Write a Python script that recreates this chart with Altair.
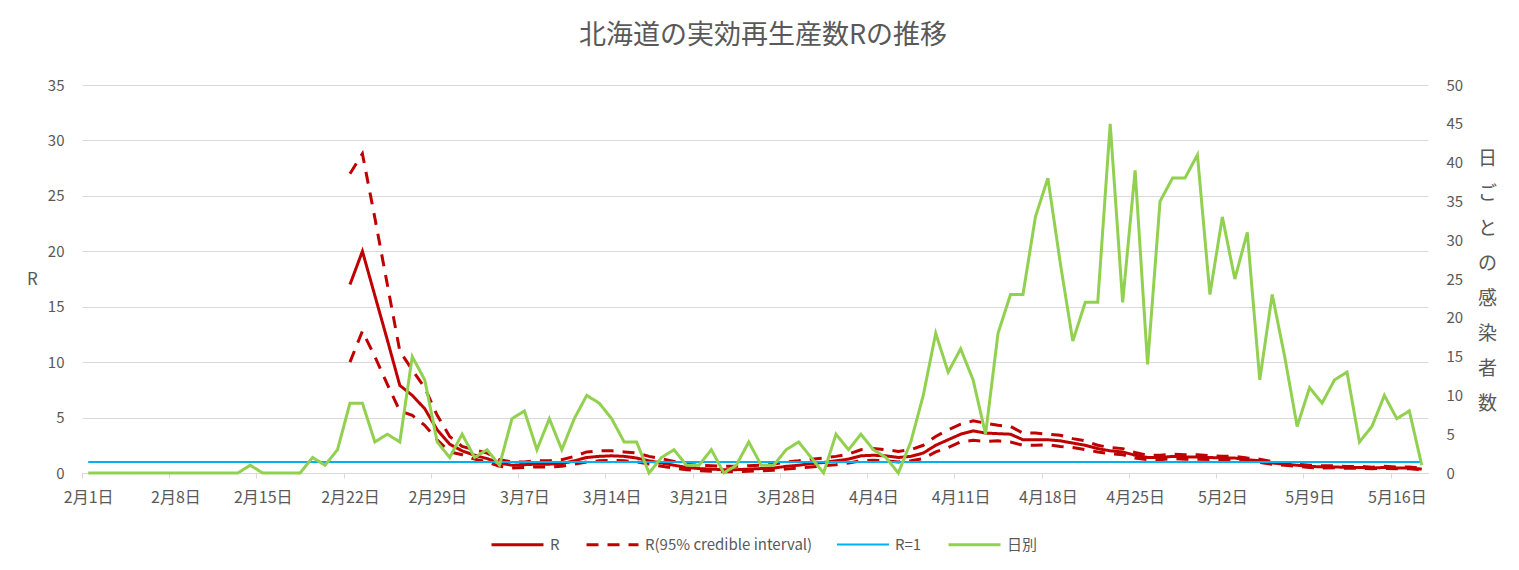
import altair as alt
import pandas as pd

# ---- categories: 2020-02-01 .. 2020-05-18 ----
months = [2, 3, 4, 5]
month_days = [29, 31, 30, 18]
dates = [f"{m}月{d}日" for m, n in zip(months, month_days) for d in range(1, n + 1)]
tick_dates = dates[::7]

# ---- daily new cases (right axis) 2/1 .. 5/18 ----
daily = [0, 0, 0, 0, 0, 0, 0, 0, 0, 0, 0, 0, 0, 1, 0, 0, 0, 0, 2, 1, 3, 9, 9, 4, 5, 4, 15, 12, 4,
         2, 5, 2, 3, 1, 7, 8, 3, 7, 3, 7, 10, 9, 7, 4, 4, 0, 2, 3, 1, 1, 3, 0, 1, 4, 1, 1, 3, 4, 2, 0,
         5, 3, 5, 3, 2, 0, 4, 10, 18, 13, 16, 12, 5, 18, 23, 23, 33, 38, 27, 17, 22, 22, 45, 22, 39, 14,
         35, 38, 38, 41,
         23, 33, 25, 31, 12, 23, 15, 6, 11, 9, 12, 13, 4, 6, 10, 7, 8, 1]

# ---- R estimates from 2/22 .. 5/18 ----
r_start = dates.index("2月22日")
r_mid = [17.0, 20.0, 16.0, 12.0, 7.9, 7.0, 5.8, 3.9,
         2.6, 2.0, 1.6, 1.3, 0.9, 0.7, 0.75, 0.8, 0.8, 0.85, 1.1, 1.4, 1.5, 1.55, 1.5, 1.35, 1.1, 0.9,
         0.7, 0.5, 0.4, 0.35, 0.3, 0.3, 0.35, 0.4, 0.45, 0.6, 0.7, 0.85, 0.95,
         1.1, 1.25, 1.55, 1.6, 1.55, 1.4, 1.5, 1.8, 2.5, 3.0, 3.5, 3.8, 3.6, 3.55, 3.5, 3.0, 3.0, 3.0,
         2.9, 2.7, 2.5, 2.2, 2.0, 1.9, 1.6, 1.4, 1.4, 1.5, 1.45, 1.45,
         1.4, 1.35, 1.35, 1.2, 1.1, 0.9, 0.8, 0.7, 0.6, 0.55, 0.55, 0.5, 0.5, 0.45, 0.5, 0.45, 0.45, 0.35]
r_upper = [27.0, 28.8, 23.0, 17.0, 11.0, 9.3, 7.7, 5.2,
           3.3, 2.4, 2.1, 1.8, 1.2, 1.0, 1.0, 1.1, 1.1, 1.2, 1.5, 1.9, 2.0, 2.0, 1.9, 1.8, 1.5, 1.3,
           1.05, 0.8, 0.7, 0.65, 0.6, 0.6, 0.65, 0.7, 0.8, 1.0, 1.1, 1.25, 1.35,
           1.5, 1.7, 2.1, 2.2, 2.1, 1.95, 2.1, 2.5, 3.3, 3.9, 4.4, 4.7, 4.5, 4.3, 4.2, 3.6, 3.6, 3.5,
           3.4, 3.1, 2.9, 2.5, 2.3, 2.2, 1.85, 1.6, 1.6, 1.7, 1.65, 1.65,
           1.55, 1.5, 1.5, 1.35, 1.25, 1.02, 0.9, 0.8, 0.7, 0.65, 0.65, 0.58, 0.6, 0.52, 0.6, 0.53, 0.55, 0.42]
r_lower = [10.0, 12.8, 10.5, 8.0, 5.6, 5.2, 4.3, 3.0,
           1.9, 1.65, 1.25, 1.0, 0.6, 0.45, 0.5, 0.55, 0.55, 0.6, 0.8, 1.0, 1.1, 1.15, 1.1, 1.0, 0.8, 0.6,
           0.45, 0.3, 0.2, 0.15, 0.12, 0.12, 0.15, 0.2, 0.25, 0.35, 0.45, 0.55, 0.65,
           0.75, 0.9, 1.1, 1.15, 1.1, 1.0, 1.1, 1.3, 1.9, 2.3, 2.8, 2.95, 2.85, 2.9, 2.8, 2.5, 2.5, 2.55,
           2.4, 2.3, 2.1, 1.9, 1.75, 1.65, 1.35, 1.2, 1.2, 1.3, 1.25, 1.25,
           1.22, 1.2, 1.2, 1.05, 0.95, 0.78, 0.7, 0.6, 0.5, 0.45, 0.47, 0.42, 0.42, 0.38, 0.42, 0.38, 0.38, 0.3]
r_one = [1.0] * len(dates)

series_names = ["R", "R(95% credible interval)", "R=1", "日別"]
series_colors = ["#C00000", "#C00000", "#00B0F0", "#92D050"]
series_dash = [[1, 0], [12, 9], [1, 0], [1, 0]]
series_width = [3, 3, 2, 3]

r_dates = dates[r_start:r_start + len(r_mid)]
df_mid = pd.DataFrame({"date": r_dates, "value": r_mid, "series": "R", "line": "mid"})
df_ci = pd.concat([
    pd.DataFrame({"date": r_dates, "value": r_upper, "series": series_names[1], "line": "upper"}),
    pd.DataFrame({"date": r_dates, "value": r_lower, "series": series_names[1], "line": "lower"}),
])
df_one = pd.DataFrame({"date": dates, "value": r_one, "series": "R=1", "line": "one"})
df_daily = pd.DataFrame({"date": dates, "value": daily, "series": "日別", "line": "daily"})

FONT = "Noto Sans CJK JP"
GRAY = "#595959"
STEP = 1346 / len(dates)

x_enc = alt.X(
    "date:O",
    scale=alt.Scale(domain=dates, type="point", padding=0.5),
    axis=alt.Axis(
        title=None, values=tick_dates, labelAngle=0, labelFont=FONT, labelFontSize=16,
        labelColor=GRAY, domainColor="#D9D9D9", domainWidth=1, tickColor="#D9D9D9",
        tickSize=5, tickOffset=-STEP / 2, labelOffset=STEP / 2, labelPadding=11, grid=False,
    ),
)

y_left = alt.Y(
    "value:Q",
    scale=alt.Scale(domain=[0, 35]),
    axis=alt.Axis(
        values=[0, 5, 10, 15, 20, 25, 30, 35], title="R", titleAngle=0, titleX=-50, titleY=194,
        titleAlign="center", titleBaseline="middle", titleFont=FONT, titleFontSize=17,
        titleFontWeight="normal", titleColor=GRAY, labelFont=FONT, labelFontSize=15,
        labelColor=GRAY, labelPadding=18, ticks=False, tickSize=0, domain=False,
        grid=True, gridColor="#D9D9D9", gridWidth=1,
    ),
)

y_right = alt.Y(
    "value:Q",
    scale=alt.Scale(domain=[0, 50]),
    axis=alt.Axis(
        orient="right", values=list(range(0, 55, 5)),
        title=list("日ごとの感染者数"), titleAngle=0, titleX=59, titleY=64,
        titleAlign="center", titleBaseline="top", titleLineHeight=35,
        titleFont=FONT, titleFontSize=19, titleFontWeight="normal", titleColor=GRAY,
        labelFont=FONT, labelFontSize=15, labelColor=GRAY, labelPadding=18,
        ticks=False, tickSize=0, domain=False, grid=False,
    ),
)

legend = alt.Legend(
    title=None, orient="none", legendX=408, legendY=432, direction="horizontal",
    symbolType="stroke", symbolSize=2704, labelFont=FONT, labelFontSize=15, labelColor=GRAY,
    columnPadding=20, labelOffset=5, labelLimit=0,
)
color_enc = alt.Color("series:N", scale=alt.Scale(domain=series_names, range=series_colors), legend=legend)
dash_enc = alt.StrokeDash("series:N", scale=alt.Scale(domain=series_names, range=series_dash), legend=legend)
width_enc = alt.StrokeWidth("series:N", scale=alt.Scale(type="ordinal", domain=series_names, range=series_width),
                            legend=legend)


def line_layer(df, y):
    return alt.Chart(df).mark_line().encode(
        x=x_enc, y=y, color=color_enc, strokeDash=dash_enc, strokeWidth=width_enc, detail="line:N"
    )


left = alt.layer(
    line_layer(df_ci, y_left),
    line_layer(df_mid, y_left),
    line_layer(df_one, y_left),
)
right = line_layer(df_daily, y_right)

chart = alt.layer(left, right).resolve_scale(y="independent").properties(
    width=1346,
    height=388,
    title=alt.Title(
        "北海道の実効再生産数Rの推移", font=FONT, fontSize=27, fontWeight="normal",
        color=GRAY, anchor="middle", offset=28, dx=8,
    ),
    autosize=alt.AutoSizeParams(type="none"),
    padding={"left": 82, "top": 85, "right": 91, "bottom": 97},
    background="white",
).configure_view(stroke=None)

chart.save("out.html", embed_options={"renderer": "svg", "actions": False})
